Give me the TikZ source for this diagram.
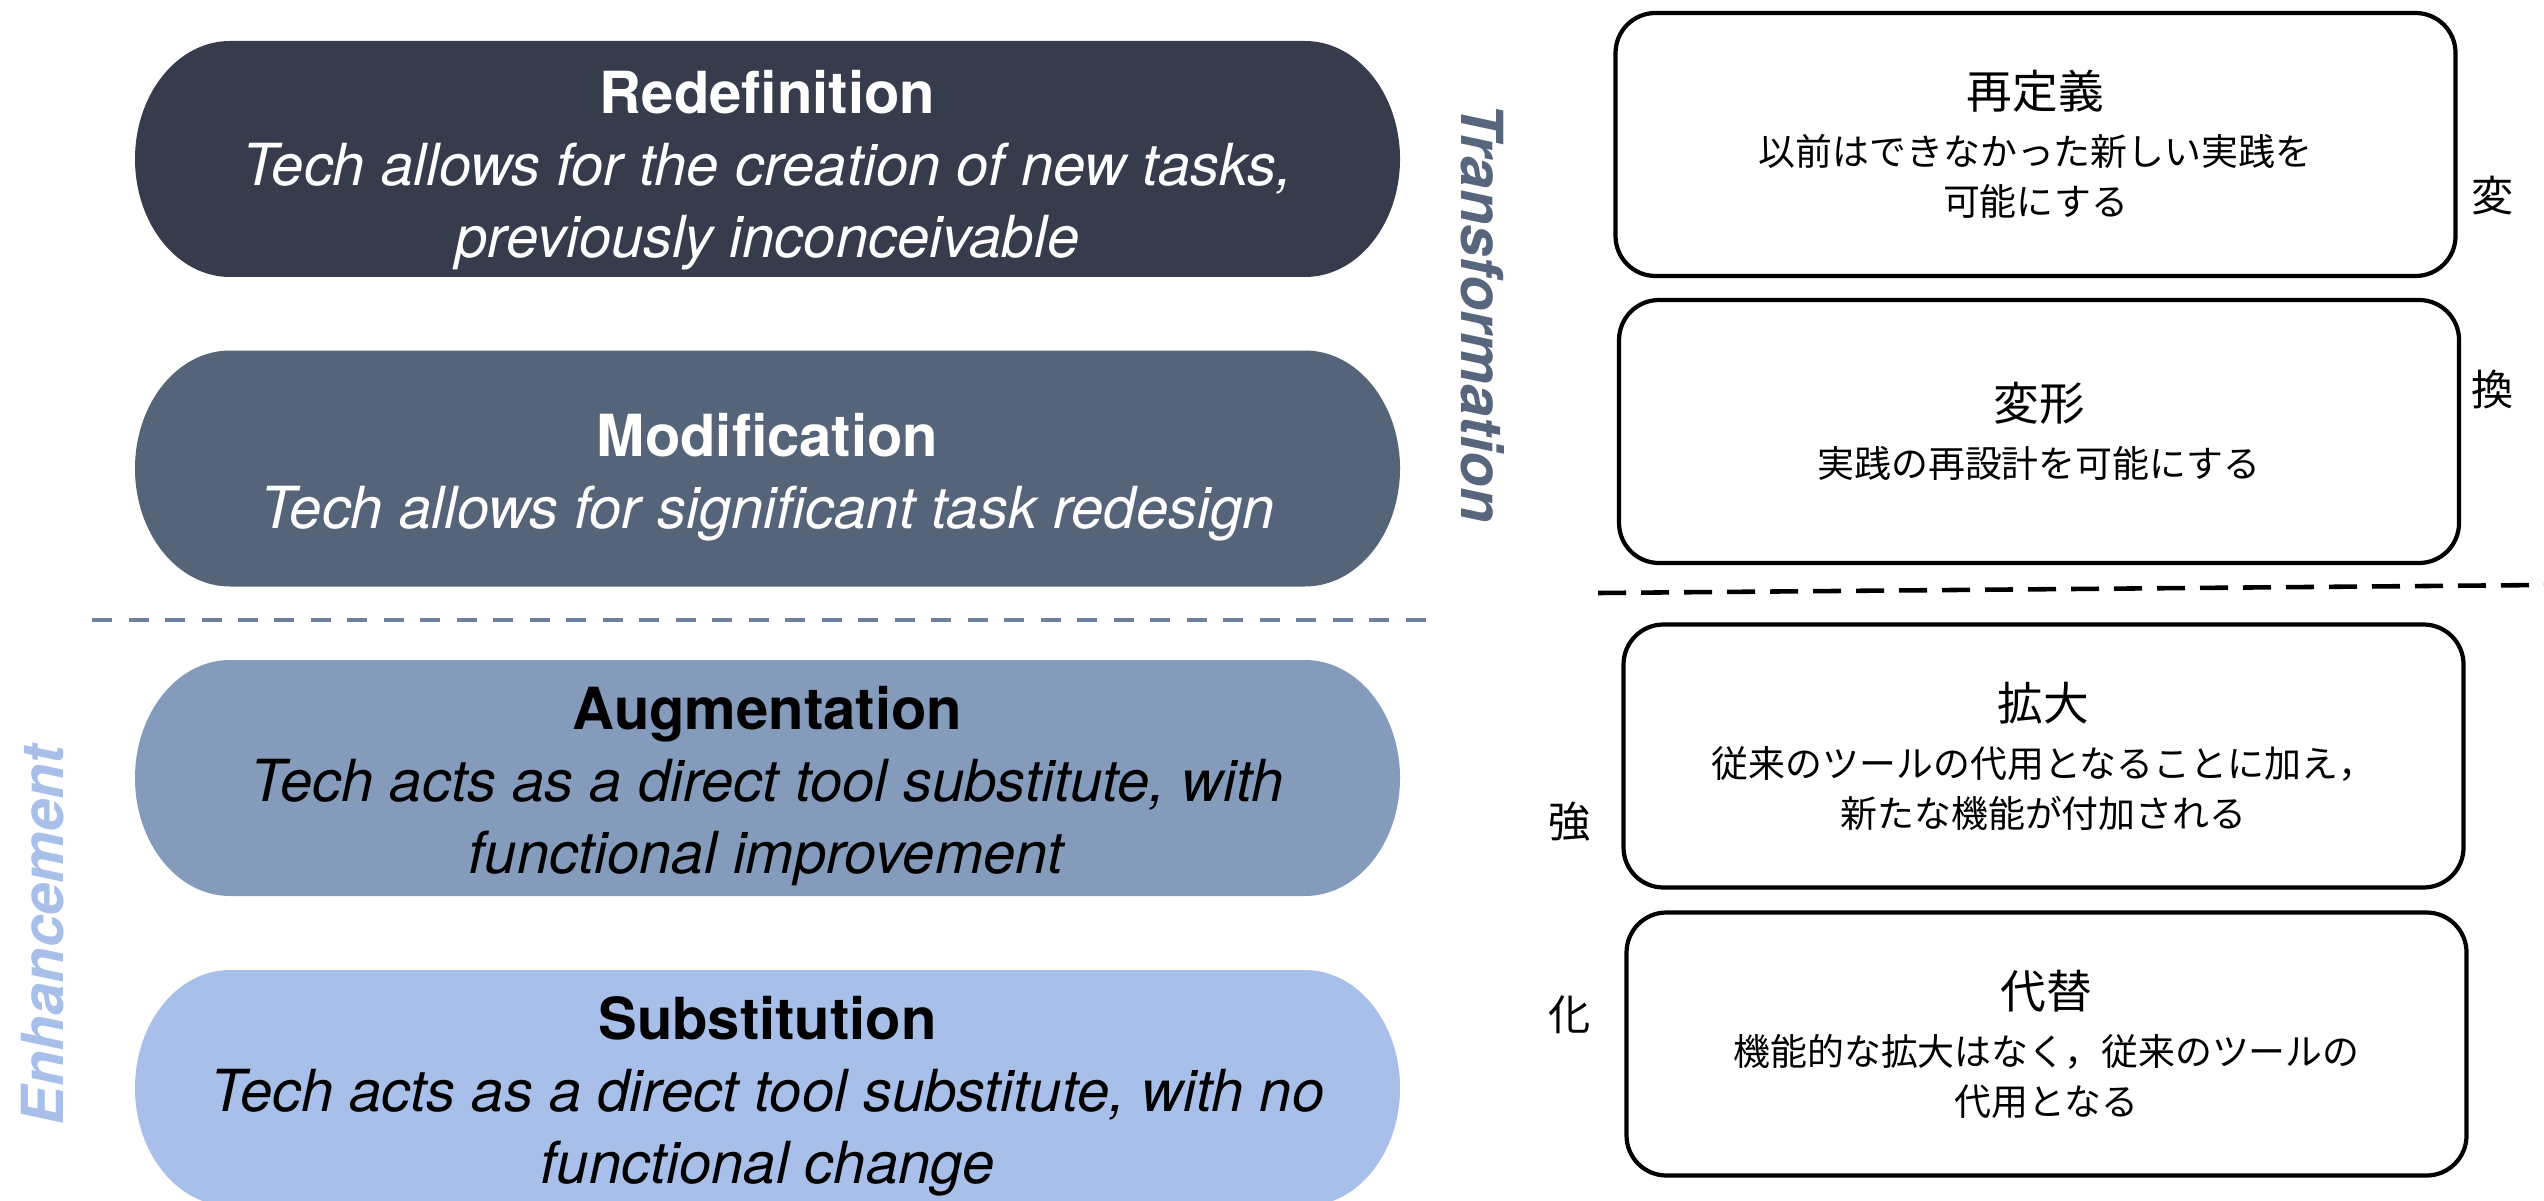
\documentclass[tikz,border=0pt]{standalone}
\usepackage{fontspec}
\setmainfont{TeX Gyre Heros}
\newfontfamily\jpfont{Noto Sans CJK JP}
\definecolor{redefcol}{HTML}{373C4C}
\definecolor{modifcol}{HTML}{56647A}
\definecolor{augmcol}{HTML}{849BBC}
\definecolor{substcol}{HTML}{A8BFE9}
\definecolor{transfcol}{HTML}{57657D}
\definecolor{dashcol}{HTML}{6E809A}
\begin{document}
\begin{tikzpicture}[line join=round, line cap=round, thick]
    \tikzset{every node/.style={inner sep=0pt},
        pilltext/.style={align=center, font=\fontsize{16.5}{20.5}\selectfont},
        sidetext/.style={font=\bfseries\itshape\fontsize{16.5}{20}\selectfont},
        jpbox/.style={draw, line width=1.2pt, rounded corners=0.4cm, minimum width=8.4cm, minimum height=2.63cm, align=center, font=\jpfont\fontsize{10.5}{14.2}\selectfont},
        jplabel/.style={font=\jpfont\fontsize{12}{12}\selectfont}}
    \useasboundingbox (0,0) rectangle (25.44,12);
    \begin{scope}
        \clip (0,0) rectangle (25.44,12);
        \foreach \y/\c in {10.41/redefcol,7.315/modifcol,4.22/augmcol,1.12/substcol}
        \fill[\c] (2.30,{\y+1.18}) -- (13.05,{\y+1.18}) arc[start angle=90,end angle=-90,x radius=0.95,y radius=1.18] -- (2.30,{\y-1.18}) arc[start angle=270,end angle=90,x radius=0.95,y radius=1.18] -- cycle;
    \end{scope}
    \node[pilltext, text=white] (redefinition) at (7.675,10.30) {\textbf{Redefinition}\\ \textit{Tech allows for the creation of new tasks,}\\ \textit{previously inconceivable}};
    \node[pilltext, text=white] (modification) at (7.675,7.23) {\textbf{Modification}\\ \textit{Tech allows for significant task redesign}};
    \node[pilltext] (augmentation) at (7.675,4.14) {\textbf{Augmentation}\\ \textit{Tech acts as a direct tool substitute, with}\\ \textit{functional improvement}};
    \node[pilltext] (substitution) at (7.675,1.04) {\textbf{Substitution}\\ \textit{Tech acts as a direct tool substitute, with no}\\ \textit{functional change}};
    \node[sidetext, text=transfcol, rotate=-90] (transformation) at (14.83,8.87) {Transformation};
    \node[sidetext, text=substcol, rotate=90] (enhancement) at (0.43,2.65) {Enhancement};
    \draw[dashcol, line width=1.3pt, line cap=butt, dash pattern=on 0.2cm off 0.165cm] (0.92,5.80) -- (14.40,5.80);
    \node[jpbox] (saiteigi) at (20.355,10.555) {{\fontsize{13}{16}\selectfont 再定義}\\[2pt] 以前はできなかった新しい実践を\\ 可能にする};
    \node[jpbox] (henkei) at (20.39,7.685) {{\fontsize{13}{16}\selectfont 変形}\\[2pt] 実践の再設計を可能にする};
    \node[jpbox] (kakudai) at (20.435,4.44) {{\fontsize{13}{16}\selectfont 拡大}\\[2pt] 従来のツールの代用となることに加え，\\ 新たな機能が付加される};
    \node[jpbox] (daitai) at (20.465,1.56) {{\fontsize{13}{16}\selectfont 代替}\\[2pt] 機能的な拡大はなく，従来のツールの\\ 代用となる};
    \draw[line width=1.3pt, line cap=butt, dash pattern=on 0.28cm off 0.15cm] (15.98,6.07) -- (25.44,6.15);
    \node[jplabel] (hen) at (24.93,10.04) {変};
    \node[jplabel] (kan) at (24.93,8.11) {換};
    \node[jplabel] (kyou) at (15.70,3.78) {強};
    \node[jplabel] (ka) at (15.70,1.85) {化};
\end{tikzpicture}
\end{document}
